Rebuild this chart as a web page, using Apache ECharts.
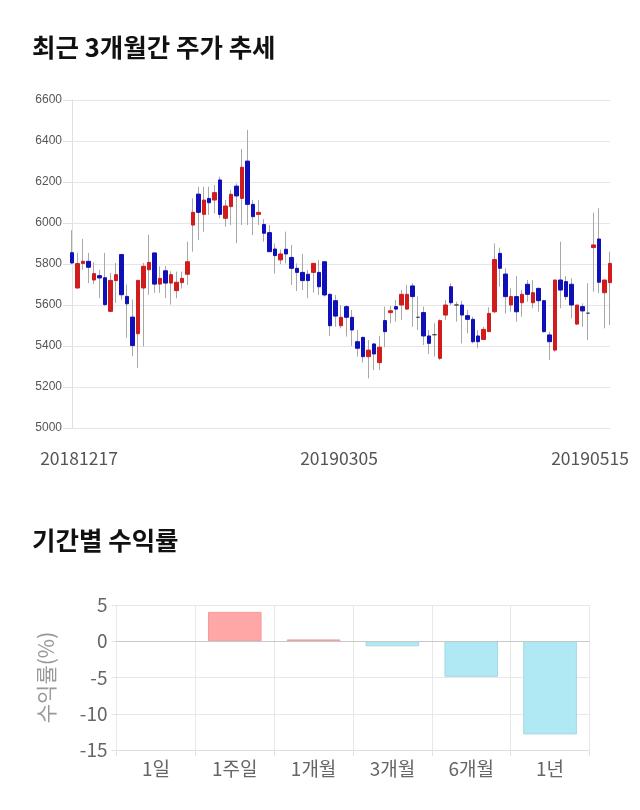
<!DOCTYPE html>
<html>
<head>
<meta charset="utf-8">
<script src="https://cdn.jsdelivr.net/npm/echarts@6/dist/echarts.min.js"></script>
<style>
html,body{margin:0;padding:0;background:#fff;}
#c{width:640px;height:810px;}
</style>
</head>
<body>
<div id="c"></div>
<script>
const dates = [
'20181217','20181218','20181219','20181220','20181221','20181224','20181226','20181227','20181228',
'20190102','20190103','20190104','20190107','20190108','20190109','20190110','20190111','20190114','20190115','20190116','20190117','20190118','20190121','20190122','20190123','20190124','20190125','20190128','20190129','20190130','20190131',
'20190201','20190207','20190208','20190211','20190212','20190213','20190214','20190215','20190218','20190219','20190220','20190221','20190222','20190225','20190226','20190227','20190228',
'20190304','20190305','20190306','20190307','20190308','20190311','20190312','20190313','20190314','20190315','20190318','20190319','20190320','20190321','20190322','20190325','20190326','20190327','20190328','20190329',
'20190401','20190402','20190403','20190404','20190405','20190408','20190409','20190410','20190411','20190412','20190415','20190416','20190417','20190418','20190419','20190422','20190423','20190424','20190425','20190426','20190429','20190430',
'20190502','20190503','20190507','20190508','20190509','20190510','20190513','20190514','20190515'
];
const openV = [5855,5683,5803,5813,5722,5743,5733,5569,5719,5846,5642,5541,5460,5683,5772,5854,5702,5767,5707,5670,5709,5750,5990,6141,6042,6120,6112,6210,6023,6080,6180,6120,6302,6091,6042,5993,5953,5873,5820,5872,5832,5779,5759,5750,5759,5759,5811,5652,5621,5499,5592,5540,5421,5442,5348,5410,5319,5524,5563,5592,5600,5580,5693,5540,5563,5449,5455,5340,5551,5689,5600,5600,5548,5530,5449,5432,5470,5567,5852,5751,5600,5641,5611,5701,5611,5681,5621,5454,5380,5722,5714,5701,5507,5592,5560,5880,5922,5660,5709];
const closeV = [5805,5802,5813,5784,5753,5732,5602,5720,5748,5650,5606,5402,5720,5789,5808,5702,5730,5707,5748,5711,5730,5811,6052,6052,6112,6099,6148,6042,6083,6140,6132,6272,6091,6031,6052,5950,5860,5841,5849,5849,5779,5759,5719,5719,5803,5689,5649,5499,5546,5540,5540,5478,5389,5348,5380,5361,5394,5470,5572,5580,5652,5652,5641,5540,5449,5413,5455,5524,5600,5611,5600,5551,5530,5421,5421,5481,5559,5822,5779,5641,5641,5567,5652,5652,5660,5621,5470,5421,5722,5673,5641,5600,5600,5571,5560,5893,5711,5722,5803];
const lowV = [5800,5680,5772,5707,5702,5634,5595,5565,5610,5626,5440,5350,5293,5398,5650,5660,5659,5634,5602,5633,5681,5698,5860,5917,5958,6039,6047,6023,5982,5990,5901,5990,5990,5941,5990,5909,5860,5754,5800,5803,5698,5668,5673,5633,5660,5649,5641,5449,5494,5486,5446,5400,5348,5319,5242,5283,5283,5394,5510,5519,5527,5576,5494,5478,5405,5361,5348,5332,5527,5600,5519,5413,5462,5413,5389,5429,5470,5559,5689,5559,5567,5519,5543,5616,5584,5567,5465,5332,5372,5584,5624,5535,5502,5494,5429,5665,5657,5486,5502];
const highV = [5965,5855,5922,5854,5808,5772,5854,5756,5805,5850,5700,5626,5724,5805,5943,5854,5789,5790,5765,5763,5763,5909,6120,6177,6177,6177,6185,6226,6112,6161,6193,6361,6454,6112,6112,6019,5990,5900,5870,5958,5893,5803,5849,5771,5803,5820,5811,5657,5649,5600,5600,5576,5478,5446,5429,5413,5449,5592,5595,5624,5673,5698,5706,5641,5592,5478,5511,5530,5624,5706,5616,5621,5576,5543,5478,5494,5589,5900,5880,5779,5681,5741,5673,5722,5722,5686,5625,5470,5722,5909,5741,5730,5600,5608,5706,6050,6072,5722,5860];
const dateLabelIdx = [0, 49, 98];
const priceTicks = {min: 5000, max: 6600, interval: 200};

const periods = ['1일','1주일','1개월','3개월','6개월','1년'];
const returns = [0, 4.05, 0.25, -0.7, -4.9, -12.85];

const FONT = "'Noto Sans CJK KR', 'Noto Sans', sans-serif";

const wickData = dates.map((d,i)=>[openV[i], closeV[i], lowV[i], highV[i]]);
const bodyData = dates.map((d,i)=>[openV[i], closeV[i], Math.min(openV[i],closeV[i]), Math.max(openV[i],closeV[i])]);

const chart = echarts.init(document.getElementById('c'), null, {renderer:'canvas'});
chart.setOption({
  animation: false,
  backgroundColor: '#fff',
  graphic: [
    {type:'text', left: 32, top: 35, style:{text:'최근 3개월간 주가 추세', font:"bold 25.5px 'Noto Sans CJK KR'", fill:'#111'}},
    {type:'text', left: 32, top: 528, style:{text:'기간별 수익률', font:"bold 25.5px 'Noto Sans CJK KR'", fill:'#111'}}
  ],
  grid: [
    {left: 72, right: 30, top: 100, height: 328},
    {left: 116.5, right: 50.5, top: 605, height: 145}
  ],
  xAxis: [
    {
      gridIndex: 0, type: 'category', data: dates, boundaryGap: false,
      axisLine: {show: false}, axisTick: {show: false}, splitLine: {show: false},
      axisLabel: {
        interval: (idx)=> dateLabelIdx.indexOf(idx) >= 0,
        margin: 22, color: '#555', fontSize: 17.5, fontFamily: FONT,
        formatter: (v, idx)=> idx === 0 ? '{a|'+v+'}' : (idx === dates.length-1 ? '{b|'+v+'}' : '{m|'+v+'}'),
        rich: {
          a: {padding: [0,0,0,14], fontSize:17.5, color:'#555', fontFamily: FONT},
          m: {padding: [0,4,0,0], fontSize:17.5, color:'#555', fontFamily: FONT},
          b: {padding: [0,40,0,0], fontSize:17.5, color:'#555', fontFamily: FONT}
        }
      }
    },
    {
      gridIndex: 1, type: 'category', data: periods, boundaryGap: true,
      axisLine: {show: true, onZero: false, lineStyle: {color: '#ddd'}},
      axisTick: {show: true, length: 6, lineStyle: {color: '#e3e3e3'}},
      splitLine: {show: true, lineStyle: {color: '#e8e8e8'}},
      axisLabel: {color: '#666', fontSize: 19, fontFamily: FONT, margin: 9}
    }
  ],
  yAxis: [
    {
      gridIndex: 0, type: 'value', min: priceTicks.min, max: priceTicks.max, interval: priceTicks.interval,
      axisLine: {show: true, lineStyle: {color: '#e0e0e0'}},
      axisTick: {show: true, length: 9, lineStyle: {color: '#e0e0e0'}},
      splitLine: {lineStyle: {color: '#e6e6e6'}},
      axisLabel: {color: '#555', fontSize: 12, fontFamily: "'Liberation Sans', Arial, sans-serif", margin: 10,
                  formatter: (v)=> String(v)}
    },
    {
      gridIndex: 1, type: 'value', min: -15, max: 5, interval: 5,
      name: '수익률(%)', nameLocation: 'middle', nameGap: 60, nameRotate: 90,
      nameTextStyle: {color: '#999', fontSize: 21, fontFamily: FONT},
      axisLine: {show: false},
      axisTick: {show: true, length: 5, lineStyle: {color: '#e3e3e3'}},
      splitLine: {lineStyle: {color: '#e8e8e8'}},
      axisLabel: {color: '#666', fontSize: 19, fontFamily: FONT, margin: 9}
    }
  ],
  series: [
    {
      type: 'candlestick', xAxisIndex: 0, yAxisIndex: 0, data: wickData, barWidth: 1,
      itemStyle: {color: '#a8a8a8', color0: '#a8a8a8', borderColor: '#a8a8a8', borderColor0: '#a8a8a8', borderColorDoji: '#a8a8a8', borderWidth: 1},
      silent: true
    },
    {
      type: 'candlestick', xAxisIndex: 0, yAxisIndex: 0, data: bodyData, barWidth: 4,
      itemStyle: {color: '#d01c1c', color0: '#1010b8', borderColor: '#d01c1c', borderColor0: '#1010b8', borderColorDoji: '#444', borderWidth: 1},
      silent: true
    },
    {
      type: 'bar', xAxisIndex: 1, yAxisIndex: 1, barCategoryGap: '32%',
      data: returns.map(v => ({
        value: v,
        itemStyle: v > 0 ? {color: '#ffa6a6', borderColor: '#f29a9a', borderWidth: 1}
                 : v < 0 ? {color: '#b0e9f3', borderColor: '#a2d9e2', borderWidth: 1}
                 : {color: 'rgba(0,0,0,0)', borderWidth: 0}
      })),
      markLine: {
        silent: true, symbol: 'none', label: {show: false},
        lineStyle: {color: '#c8c8c8', type: 'solid', width: 1},
        data: [{yAxis: 0}]
      }
    }
  ]
});
</script>
</body>
</html>
